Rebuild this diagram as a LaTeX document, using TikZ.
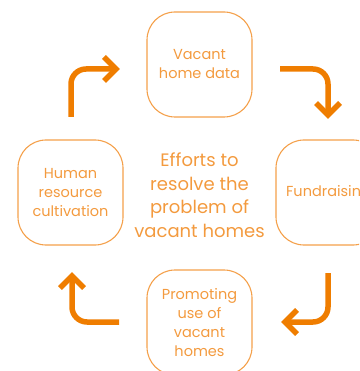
\documentclass[tikz,border=0pt]{standalone}
\usepackage{fontspec}
\setmainfont{Poppins}
\definecolor{boxline}{HTML}{F4A04A}
\definecolor{boxtext}{HTML}{F39A3E}
\definecolor{arrowc}{HTML}{EF7D00}
\begin{document}
\begin{tikzpicture}[x=1pt,y=-1pt,
  stepbox/.style={draw=boxline, line width=1.1pt, rounded corners=28pt,
    minimum width=105pt, minimum height=105pt, inner sep=0pt,
    align=center, text=boxtext, font=\fontsize{14.5}{19}\selectfont},
  cyclearrow/.style={draw=arrowc, line width=5.5pt, rounded corners=15pt},
  chevron/.style={draw=arrowc, line width=5.5pt, line join=miter}]
\useasboundingbox (0,0) rectangle (359,371);
\clip (0,0) rectangle (359,371);
\node[stepbox] (top) at (199.5,64.5) {Vacant\\home data};
\node[stepbox] (right) at (328.5,192.5) {Fundraising};
\node[stepbox] (bottom) at (199.5,322.5) {Promoting\\use of\\vacant\\homes};
\node[stepbox] (left) at (70.5,192.5) {Human\\resource\\cultivation};
\node[align=center, text=boxtext, font=\fontsize{18}{23.5}\selectfont] (center) at (199.5,195) {Efforts to\\resolve the\\problem of\\vacant homes};
% arrow 1: left -> top
\coordinate (a1s) at (71,117);
\coordinate (a1c) at (71,69);
\coordinate (a1e) at (116,69);
\draw[cyclearrow] (a1s) -- (a1c) -- (a1e);
\draw[chevron] (104,57) -- (a1e) -- (104,81);
% arrow 2: top -> right
\coordinate (a2s) at (280,69);
\coordinate (a2c) at (328,69);
\coordinate (a2e) at (328,115);
\draw[cyclearrow] (a2s) -- (a2c) -- (a2e);
\draw[chevron] (316,103) -- (a2e) -- (340,103);
% arrow 3: right -> bottom
\coordinate (a3s) at (328,273);
\coordinate (a3c) at (328,322);
\coordinate (a3e) at (285,322);
\draw[cyclearrow] (a3s) -- (a3c) -- (a3e);
\draw[chevron] (297,310) -- (a3e) -- (297,334);
% arrow 4: bottom -> left
\coordinate (a4s) at (119,322);
\coordinate (a4c) at (72,322);
\coordinate (a4e) at (72,276);
\draw[cyclearrow] (a4s) -- (a4c) -- (a4e);
\draw[chevron] (60,288) -- (a4e) -- (84,288);
\end{tikzpicture}
\end{document}
